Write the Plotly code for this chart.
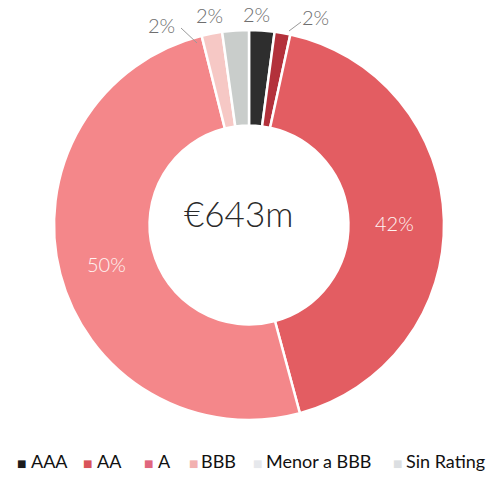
import plotly.graph_objects as go

# slices, clockwise from 12 o'clock
slice_names = ["AAA", "Otros", "AA", "A", "BBB", "Sin Rating"]
slice_values = [2.1, 1.3, 42.4, 50.3, 1.7, 2.2]
slice_colors = ["#2e2e2e", "#b3313b", "#e35d62", "#f4878a", "#f6c8c5", "#c9cdcb"]
slice_labels = ["2%", "2%", "42%", "50%", "2%", "2%"]

legend_names = ["AAA", "AA", "A", "BBB", "Menor a BBB", "Sin Rating"]
legend_colors = ["#1c1c1c", "#d9545a", "#e0667e", "#f2b0b0", "#e6e8ec", "#dcdfe2"]

total_label = "€643m"

W, H = 496, 499
cx, cy, r = 249, 225, 195


def px(x):
    return x / W


def py(y):
    return 1 - y / H


fig = go.Figure()

fig.add_trace(go.Pie(
    labels=slice_names,
    values=slice_values,
    marker=dict(colors=slice_colors, line=dict(color="white", width=2.5)),
    hole=0.51,
    sort=False,
    direction="clockwise",
    rotation=0,
    textinfo="none",
    showlegend=False,
    domain=dict(x=[px(cx - r), px(cx + r)], y=[py(cy + r), py(cy - r)]),
))

# percentage labels (positions of the text only)
label_pos = [(256, 14), (315, 17), (394, 223), (106, 264), (161, 25), (209, 15)]
for txt, (x, y), name in zip(slice_labels, label_pos, slice_names):
    big = name in ("AA", "A")
    fig.add_annotation(
        x=px(x), y=py(y), xref="paper", yref="paper", text=txt, showarrow=False,
        xanchor="center", yanchor="middle",
        font=dict(family="Lato", size=20,
                  color="#fff4f2" if big else "#6e6e6e", weight=300),
    )

# leader lines for the outer labels
fig.add_shape(type="line", xref="paper", yref="paper",
              x0=px(181), y0=py(28), x1=px(197), y1=py(43),
              line=dict(color="#9a9a9a", width=1))
fig.add_shape(type="line", xref="paper", yref="paper",
              x0=px(289), y0=py(31), x1=px(301), y1=py(22),
              line=dict(color="#9a9a9a", width=1))

# centre total
fig.add_annotation(
    x=px(238), y=py(213), xref="paper", yref="paper", text=total_label,
    showarrow=False, xanchor="center", yanchor="middle",
    font=dict(family="Lato", size=35, color="#2a2a2a", weight=300),
)

# legend row
legend_sq_x = [21, 87, 148, 193, 257, 397]
legend_txt_x = [29, 95, 156, 199, 264, 404]
for name, col, xs, xt in zip(legend_names, legend_colors, legend_sq_x, legend_txt_x):
    fig.add_annotation(
        x=px(xs), y=py(463), xref="paper", yref="paper",
        xanchor="center", yanchor="middle", text="■", showarrow=False,
        font=dict(family="DejaVu Sans", size=10, color=col),
    )
    fig.add_annotation(
        x=px(xt), y=py(461), xref="paper", yref="paper",
        xanchor="left", yanchor="middle", text=name, showarrow=False,
        font=dict(family="Lato", size=18, color="#111111"),
    )

fig.update_layout(
    width=W, height=H,
    margin=dict(l=0, r=0, t=0, b=0),
    paper_bgcolor="white",
    plot_bgcolor="white",
)

fig.write_html("out.html", config={"displayModeBar": False},
               post_script="document.body.style.margin='0';")
